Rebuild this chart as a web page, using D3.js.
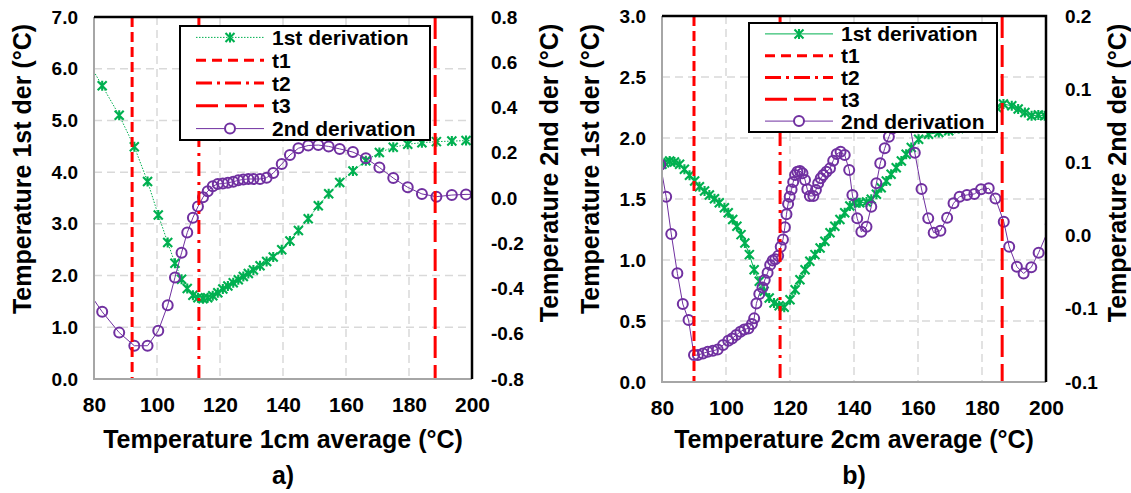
<!DOCTYPE html>
<html>
<head>
<meta charset="utf-8">
<script src="https://cdn.jsdelivr.net/npm/d3@7"></script>
<style>
  body { margin: 0; background: #fff; }
  svg text { font-family: "Liberation Sans", Arial, sans-serif; font-weight: bold; fill: #000; }
  .narrow { font-family: "Liberation Sans Narrow", "Liberation Sans", Arial, sans-serif; }
</style>
</head>
<body>
<svg id="chart" width="1131" height="493"></svg>
<script>
// ---- panel a) 1cm ----
var aX = [77.5, 82.6, 88.0, 92.8, 97.0, 100.4, 103.4, 105.7, 107.8, 109.6, 111.4, 113.0, 114.6, 116.1, 117.7,
    119.3, 120.9, 122.5, 124.2, 125.8, 127.4, 129.0, 130.6, 132.7, 134.8, 136.9, 139.6, 142.2, 144.9, 148.0,
    151.2, 154.5, 158.0, 162.2, 166.3, 170.6, 175.0, 179.6, 184.1, 188.7, 193.6, 198.1, 202.6];
var aFirst = [6.20, 5.67, 5.10, 4.49, 3.82, 3.17, 2.64, 2.24, 1.93, 1.75, 1.62, 1.57, 1.55, 1.57, 1.61,
    1.67, 1.74, 1.80, 1.86, 1.92, 1.98, 2.04, 2.11, 2.19, 2.27, 2.36, 2.50, 2.67, 2.87, 3.10,
    3.35, 3.58, 3.80, 4.02, 4.22, 4.38, 4.48, 4.54, 4.57, 4.59, 4.60, 4.61, 4.62];
var aSecond = [-0.400, -0.503, -0.595, -0.653, -0.653, -0.587, -0.474, -0.351, -0.242, -0.153, -0.087, -0.038, 0.003, 0.030, 0.052,
    0.062, 0.064, 0.067, 0.072, 0.078, 0.082, 0.084, 0.084, 0.084, 0.090, 0.110, 0.150, 0.190, 0.220, 0.232,
    0.234, 0.228, 0.217, 0.203, 0.176, 0.135, 0.088, 0.047, 0.018, 0.006, 0.013, 0.016, 0.016];
var aTimes = [92.1, 113.3, 188.3];   // t1, t2, t3
var aLeftTicks = [0, 1, 2, 3, 4, 5, 6, 7];
var aRightTicks = [-0.8, -0.6, -0.4, -0.2, 0, 0.2, 0.4, 0.6, 0.8];
var aRightLabels = ["-0.8", "-0.6", "-0.4", "-0.2", "0.0", "0.2", "0.4", "0.6", "0.8"];

// ---- panel b) 2cm ----
var bFirstX = [80.0, 80.8, 82.4, 83.9, 85.5, 87.0, 88.6, 90.2, 91.7, 93.3, 94.8, 96.4, 97.9, 99.5, 100.7,
    102.1, 103.4, 104.7, 105.9, 107.3, 108.8, 110.4, 111.9, 113.5, 115.0, 116.6, 118.2, 120.0, 121.6, 123.1,
    124.7, 126.2, 127.8, 129.4, 130.9, 132.5, 134.0, 135.6, 137.1, 138.7, 140.2, 141.8, 143.9, 145.4, 147.0,
    148.5, 150.1, 151.6, 153.2, 154.8, 156.3, 157.9, 160.2, 163.3, 166.5, 169.6, 172.7, 175.4, 178.0, 180.6,
    182.8, 184.6, 186.7, 189.3, 191.3, 193.4, 195.5, 197.6, 199.6];
var bFirst = [1.785, 1.798, 1.812, 1.804, 1.785, 1.744, 1.694, 1.648, 1.601, 1.565, 1.532, 1.502, 1.469, 1.428, 1.387,
    1.332, 1.277, 1.208, 1.140, 1.044, 0.921, 0.825, 0.743, 0.688, 0.647, 0.625, 0.612, 0.674, 0.757, 0.839,
    0.921, 0.990, 1.044, 1.099, 1.154, 1.223, 1.277, 1.332, 1.387, 1.442, 1.469, 1.469, 1.475, 1.497, 1.538,
    1.593, 1.647, 1.702, 1.757, 1.812, 1.867, 1.922, 1.990, 2.031, 2.045, 2.059, 2.078, 2.12, 2.17, 2.21,
    2.24, 2.250, 2.278, 2.264, 2.237, 2.209, 2.182, 2.188, 2.182];
var bSecondX = [79.5, 81.3, 82.9, 84.8, 86.5, 88.3, 90.0, 91.2, 92.8, 94.3, 95.9, 97.4, 99.1, 100.7, 101.9,
    103.2, 104.5, 105.7, 107.0, 108.1, 108.8, 109.5, 110.4, 111.4, 112.1, 113.0, 113.8, 114.6, 115.4, 116.3,
    117.1, 117.8, 118.4, 118.9, 119.4, 119.9, 120.5, 121.0, 121.6, 122.3, 123.1, 123.9, 124.7, 125.4, 126.2,
    127.3, 128.1, 128.8, 129.6, 130.4, 131.4, 132.5, 133.5, 134.6, 135.8, 137.1, 138.5, 139.5, 141.0, 142.3,
    143.9, 145.4, 147.0, 148.2, 149.6, 150.9, 152.0, 153.4, 155.2, 157.0, 159.0, 161.1, 163.2, 164.9, 167.0,
    169.1, 171.1, 173.0, 175.3, 177.6, 179.7, 182.1, 184.2, 186.8, 188.5, 190.9, 193.0, 195.4, 197.7, 201.5];
var bSecond = [0.068, 0.0395, 0.0064, -0.0285, -0.0558, -0.0700, -0.1011, -0.1011, -0.0996, -0.0982, -0.0973, -0.0961, -0.0922, -0.0884, -0.0863,
    -0.0833, -0.0804, -0.0783, -0.0774, -0.0735, -0.0685, -0.0552, -0.0469, -0.0410, -0.0345, -0.0280, -0.0210, -0.0172, -0.0160, -0.0130,
    -0.0050, 0.0015, 0.0125, 0.0240, 0.0330, 0.0395, 0.0460, 0.0525, 0.0588, 0.0618, 0.0624, 0.0603, 0.0544, 0.0461, 0.0402,
    0.0402, 0.0455, 0.0514, 0.0559, 0.0588, 0.0618, 0.0647, 0.0715, 0.0774, 0.0795, 0.0766, 0.0633, 0.0410, 0.0203, 0.0085,
    0.0129, 0.0307, 0.0514, 0.0692, 0.0825, 0.0928, 0.1002, 0.112, 0.118, 0.110, 0.0786, 0.0464, 0.0203, 0.0076, 0.0094,
    0.0209, 0.0337, 0.0396, 0.0411, 0.0420, 0.0461, 0.0470, 0.0379, 0.0174, -0.0049, -0.0226, -0.0286, -0.0232, -0.0102, 0.015];
var bTimes = [90.0, 116.9, 186.3];
var bLeftTicks = [0, 0.5, 1, 1.5, 2, 2.5, 3];
var bRightTicks = [-0.125, -0.06, 0.005, 0.07, 0.135, 0.2];
var bRightLabels = ["-0.1", "-0.1", "0.0", "0.1", "0.1", "0.2"];

var xTicks = [80, 100, 120, 140, 160, 180, 200];
var legendNames = ["1st derivation", "t1", "t2", "t3", "2nd derivation"];

var GREEN = "#00B050", PURPLE = "#7030A0", RED = "#FF0000", GRID = "#D9D9D9";
var tDash = ["10,5", "14,6,3,6", "22,7"];
var STAR = "M-4.5,-4.5L4.5,4.5M-4.5,4.5L4.5,-4.5M0,-5L0,5";

var svg = d3.select("#chart");

function drawPanel(p) {
    var x = d3.scaleLinear().domain([80, 200]).range([p.left, p.right]);
    var yL = d3.scaleLinear().domain(p.leftDomain).range([p.bottom, p.top]);
    var yR = d3.scaleLinear().domain(p.rightDomain).range([p.bottom, p.top]);
    var g = svg.append("g");

    g.append("clipPath").attr("id", p.id + "-clip")
        .append("rect")
        .attr("x", p.left).attr("y", p.top)
        .attr("width", p.right - p.left).attr("height", p.bottom - p.top);

    // grid
    g.selectAll(".hgrid").data(p.leftTicks.slice(1, -1)).enter().append("line")
        .attr("x1", p.left).attr("x2", p.right)
        .attr("y1", yL).attr("y2", yL)
        .style("stroke", GRID).style("stroke-width", 1.5).style("stroke-dasharray", "8,5");
    g.selectAll(".vgrid").data(xTicks.slice(1, -1)).enter().append("line")
        .attr("y1", p.top).attr("y2", p.bottom)
        .attr("x1", x).attr("x2", x)
        .style("stroke", GRID).style("stroke-width", 1.5).style("stroke-dasharray", "8,5");

    var plot = g.append("g").attr("clip-path", "url(#" + p.id + "-clip)");

    // 1st derivation
    var first = p.firstX.map(function(d, i) { return [d, p.first[i]]; });
    plot.append("path").datum(first)
        .attr("d", d3.line().x(function(d) { return x(d[0]); }).y(function(d) { return yL(d[1]); }))
        .style("fill", "none").style("stroke", GREEN).style("stroke-width", 1)
        .style("stroke-dasharray", p.firstDash);
    plot.selectAll(".star").data(first).enter().append("path")
        .attr("transform", function(d) { return "translate(" + x(d[0]) + "," + yL(d[1]) + ")"; })
        .attr("d", STAR)
        .style("stroke", GREEN).style("stroke-width", 2.1).style("fill", "none");

    // 2nd derivation
    var second = p.secondX.map(function(d, i) { return [d, p.second[i]]; });
    plot.append("path").datum(second)
        .attr("d", d3.line().x(function(d) { return x(d[0]); }).y(function(d) { return yR(d[1]); }))
        .style("fill", "none").style("stroke", PURPLE).style("stroke-width", 1);
    plot.selectAll(".ring").data(second).enter().append("circle")
        .attr("cx", function(d) { return x(d[0]); })
        .attr("cy", function(d) { return yR(d[1]); })
        .attr("r", 5)
        .style("fill", "none").style("stroke", PURPLE).style("stroke-width", 2);

    // t1..t3
    g.selectAll(".tline").data(p.times).enter().append("line")
        .attr("x1", x).attr("x2", x)
        .attr("y1", p.top).attr("y2", p.bottom)
        .style("stroke", RED).style("stroke-width", 3)
        .style("stroke-dasharray", function(d, i) { return tDash[i]; });

    // frame: grey axes, black top/right
    g.append("line").attr("x1", p.left).attr("x2", p.left).attr("y1", p.top).attr("y2", p.bottom + 1)
        .style("stroke", "#A6A6A6").style("stroke-width", 2);
    g.append("line").attr("x1", p.left).attr("x2", p.right).attr("y1", p.bottom).attr("y2", p.bottom)
        .style("stroke", "#A6A6A6").style("stroke-width", 2);
    g.append("path")
        .attr("d", "M" + p.left + "," + p.top + "H" + p.right + "V" + p.bottom)
        .style("fill", "none").style("stroke", "#000").style("stroke-width", 2.5);

    // axes
    var axL = g.append("g").attr("transform", "translate(" + p.left + ",0)")
        .call(d3.axisLeft(yL).tickValues(p.leftTicks).tickFormat(d3.format(".1f")).tickSize(0).tickPadding(16));
    var axR = g.append("g").attr("transform", "translate(" + p.right + ",0)")
        .call(d3.axisRight(yR).tickValues(p.rightTicks)
            .tickFormat(function(d, i) { return p.rightLabels[i]; }).tickSize(0).tickPadding(19));
    var axB = g.append("g").attr("transform", "translate(0," + p.bottom + ")")
        .call(d3.axisBottom(x).tickValues(xTicks).tickFormat(d3.format("d")).tickSize(0).tickPadding(18));
    [axL, axR, axB].forEach(function(a) {
        a.select(".domain").remove();
        a.selectAll("text").style("font-size", "19px");
    });
    axB.selectAll("text").attr("class", "narrow").style("font-size", "21px");

    // titles
    var mid = (p.left + p.right) / 2;
    g.append("text").attr("class", "narrow").attr("x", mid).attr("y", 448)
        .attr("text-anchor", "middle").style("font-size", "25px").text(p.xTitle);
    g.append("text").attr("class", "narrow").attr("x", mid).attr("y", 484)
        .attr("text-anchor", "middle").style("font-size", "25px").text(p.tag);
    g.append("text").attr("transform", "translate(" + p.leftTitleX + ",169) rotate(-90)")
        .attr("text-anchor", "middle").style("font-size", "25px").text(p.leftTitle);
    g.append("text").attr("transform", "translate(" + p.rightTitleX + ",173) rotate(-90)")
        .attr("text-anchor", "middle").style("font-size", "25px").text(p.rightTitle);

    // legend
    var lg = g.append("g").attr("transform", "translate(" + p.legend[0] + "," + p.legend[1] + ")");
    lg.append("rect").attr("width", p.legend[2]).attr("height", p.legend[3])
        .style("fill", "#fff").style("stroke", "#000").style("stroke-width", 2);
    var rowH = p.legend[3] / legendNames.length;
    var rows = lg.selectAll(".row").data(legendNames).enter().append("g")
        .attr("transform", function(d, i) { return "translate(0," + (rowH * (i + 0.5)) + ")"; });
    rows.append("line").attr("x1", 16).attr("x2", 84).attr("y1", 0).attr("y2", 0)
        .style("stroke", function(d, i) { return i === 0 ? GREEN : (i === 4 ? PURPLE : RED); })
        .style("stroke-width", function(d, i) { return (i === 0 || i === 4) ? 1 : 3; })
        .style("stroke-dasharray", function(d, i) {
            if (i === 0) return p.firstDash;
            if (i === 4) return null;
            return ["10,6", "16,5,3,5", "22,7"][i - 1];
        });
    rows.filter(function(d, i) { return i === 0; }).append("path")
        .attr("transform", "translate(50,0)")
        .attr("d", STAR)
        .style("stroke", GREEN).style("stroke-width", 2.1);
    rows.filter(function(d, i) { return i === 4; }).append("circle")
        .attr("cx", 50).attr("r", 5)
        .style("fill", "#fff").style("stroke", PURPLE).style("stroke-width", 2);
    rows.append("text").attr("x", 92).attr("dy", "0.36em").style("font-size", "21px")
        .text(function(d) { return d; });
}

drawPanel({
    id: "a", left: 94, right: 472, top: 17, bottom: 379,
    leftDomain: [0, 7], rightDomain: [-0.8, 0.8],
    leftTicks: aLeftTicks, rightTicks: aRightTicks, rightLabels: aRightLabels,
    firstX: aX, first: aFirst, secondX: aX, second: aSecond, firstDash: "1.5,1.5",
    times: aTimes,
    xTitle: "Temperature 1cm average (°C)", tag: "a)",
    leftTitle: "Temperature 1st der (°C)", rightTitle: "Temperature 2nd der (°C)",
    leftTitleX: 31, rightTitleX: 558,
    legend: [180, 26, 250, 114]
});

drawPanel({
    id: "b", left: 662, right: 1046, top: 16, bottom: 382,
    leftDomain: [0, 3], rightDomain: [-0.125, 0.2],
    leftTicks: bLeftTicks, rightTicks: bRightTicks, rightLabels: bRightLabels,
    firstX: bFirstX, first: bFirst, secondX: bSecondX, second: bSecond, firstDash: null,
    times: bTimes,
    xTitle: "Temperature 2cm average (°C)", tag: "b)",
    leftTitle: "Temperature 1st der (°C)", rightTitle: "Temperature 2nd der (°C)",
    leftTitleX: 599, rightTitleX: 1126,
    legend: [749, 23, 248, 109]
});
</script>
</body>
</html>
